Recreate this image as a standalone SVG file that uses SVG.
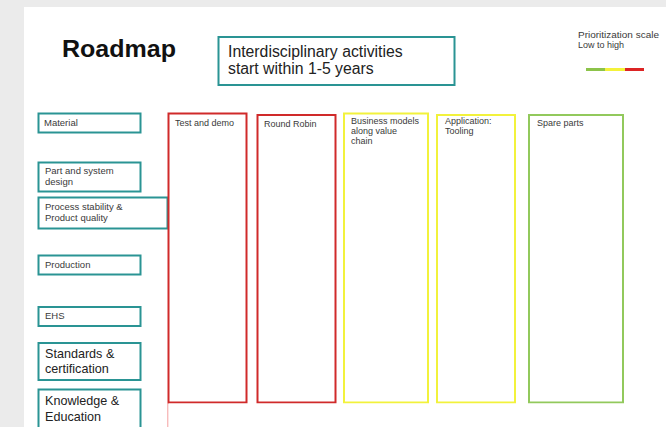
<svg xmlns="http://www.w3.org/2000/svg" width="666" height="427" viewBox="0 0 666 427">
<style>
text{font-family:"Liberation Sans",Arial,sans-serif;fill:#3a3a3a}
.lb{fill:#fff;stroke:#2a9494;stroke-width:2}
.s{font-size:9.5px}
.l{font-size:12.6px;fill:#222}
.c{font-size:9px}
.red{fill:#fff;stroke:#d02a2a;stroke-width:2}
.yel{fill:#fff;stroke:#f2f23c;stroke-width:2}
.grn{fill:#fff;stroke:#92c95c;stroke-width:2}
</style>
<rect x="0" y="0" width="666" height="427" fill="#ebebeb"/>
<rect x="24" y="7" width="642" height="420" fill="#ffffff"/>

<g id="title">
<text x="62" y="57" font-size="23" font-weight="bold" style="fill:#111" textLength="114" lengthAdjust="spacingAndGlyphs">Roadmap</text>
</g>

<g id="header-box">
<rect x="218.5" y="37" width="236" height="48" fill="#fff" stroke="#2a9494" stroke-width="2"/>
<text x="228" y="57" font-size="15.8" style="fill:#222">Interdisciplinary activities</text>
<text x="228" y="74" font-size="15.8" style="fill:#222">start within 1-5 years</text>
</g>

<g id="legend">
<text x="578" y="38" font-size="9" textLength="81" lengthAdjust="spacingAndGlyphs">Prioritization scale</text>
<text x="578" y="48" font-size="9">Low to high</text>
<line x1="586" y1="69.5" x2="605" y2="69.5" stroke="#8cc34a" stroke-width="3"/>
<line x1="605" y1="69.5" x2="625" y2="69.5" stroke="#f4f23a" stroke-width="3"/>
<line x1="625" y1="69.5" x2="644" y2="69.5" stroke="#dc2424" stroke-width="3"/>
</g>

<g id="material">
<rect class="lb" x="38.5" y="113.5" width="102" height="19"/>
<text class="s" x="44" y="126">Material</text>
</g>
<g id="part-system-design">
<rect class="lb" x="38.5" y="162.5" width="102" height="29"/>
<text class="s" x="45" y="174">Part and system</text>
<text class="s" x="45" y="185">design</text>
</g>
<g id="process-stability">
<rect class="lb" x="38.5" y="197.5" width="129" height="31"/>
<text class="s" x="45" y="210">Process stability &amp;</text>
<text class="s" x="45" y="221">Product quality</text>
</g>
<g id="production">
<rect class="lb" x="38.5" y="255.5" width="102" height="19"/>
<text class="s" x="45" y="267.5">Production</text>
</g>
<g id="ehs">
<rect class="lb" x="38.5" y="307" width="102" height="19"/>
<text class="s" x="45" y="319">EHS</text>
</g>
<g id="standards">
<rect class="lb" x="38.5" y="343" width="102" height="37"/>
<text class="l" x="45" y="357.5">Standards &amp;</text>
<text class="l" x="45" y="373">certification</text>
</g>
<g id="knowledge">
<rect class="lb" x="38.5" y="389.5" width="102" height="40"/>
<text class="l" x="45" y="405">Knowledge &amp;</text>
<text class="l" x="45" y="420.5">Education</text>
</g>

<g id="test-and-demo">
<rect class="red" x="168.5" y="113.5" width="78" height="289"/>
<text class="c" x="175" y="126">Test and demo</text>
</g>
<g id="round-robin">
<rect class="red" x="257.5" y="115" width="78" height="287.5"/>
<text class="c" x="264" y="127">Round Robin</text>
</g>
<g id="business-models">
<rect class="yel" x="344" y="113.5" width="84" height="289"/>
<text class="c" x="351" y="124">Business models</text>
<text class="c" x="351" y="134">along value</text>
<text class="c" x="351" y="144">chain</text>
</g>
<g id="application-tooling">
<rect class="yel" x="437" y="115" width="78" height="287.5"/>
<text class="c" x="445" y="124">Application:</text>
<text class="c" x="445" y="134">Tooling</text>
</g>
<g id="spare-parts">
<rect class="grn" x="529" y="115" width="94" height="287.5"/>
<text class="c" x="537" y="126">Spare parts</text>
</g>

<g id="connectors"></g>

<rect x="169" y="403.5" width="497" height="23.5" fill="#ffffff"/>
<line x1="167.8" y1="403" x2="167.8" y2="427" stroke="#f4a0a0" stroke-width="1"/>
</svg>
